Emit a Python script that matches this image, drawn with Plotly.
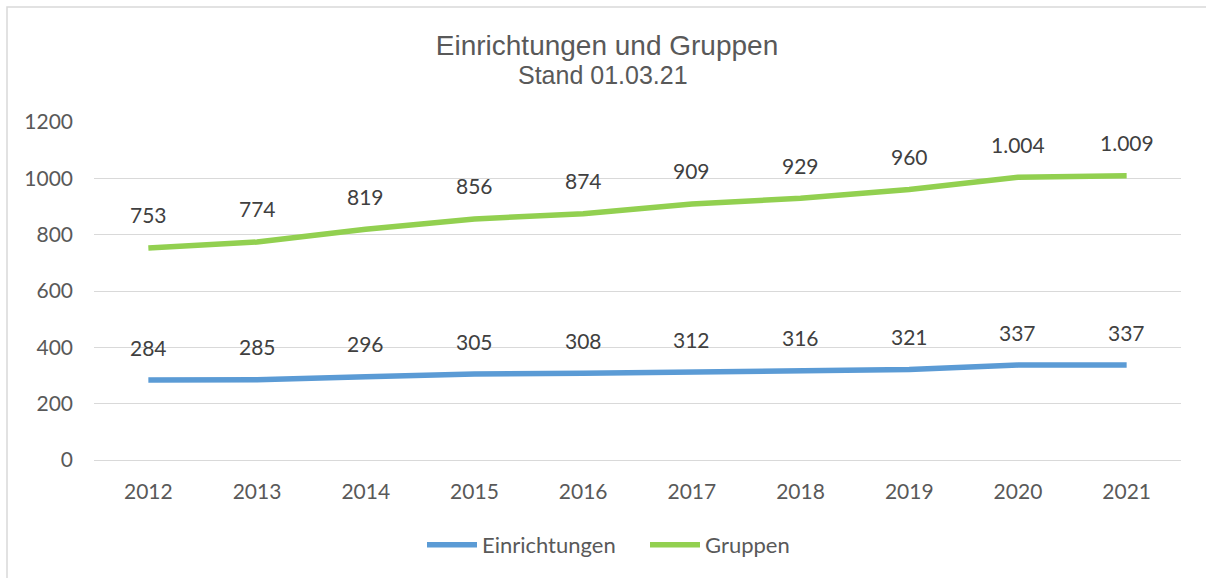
import plotly.graph_objects as go

years = ["2012", "2013", "2014", "2015", "2016", "2017", "2018", "2019", "2020", "2021"]
einrichtungen = [284, 285, 296, 305, 308, 312, 316, 321, 337, 337]
gruppen = [753, 774, 819, 856, 874, 909, 929, 960, 1004, 1009]
y_ticks = [0, 200, 400, 600, 800, 1000, 1200]

W, H = 1206, 578
ML, MR, MT, MB = 94, 25, 122, 118
PW, PH = W - ML - MR, H - MT - MB

def de_fmt(v):
    return f"{v:,}".replace(",", ".")

fig = go.Figure()
fig.add_trace(go.Scatter(x=years, y=einrichtungen, mode="lines", name="Einrichtungen",
                         line=dict(color="#5B9BD5", width=5.5)))
fig.add_trace(go.Scatter(x=years, y=gruppen, mode="lines", name="Gruppen",
                         line=dict(color="#92D050", width=5.5)))

annotations = []
for series in (einrichtungen, gruppen):
    for i, v in enumerate(series):
        annotations.append(dict(x=i, y=v, text=de_fmt(v), showarrow=False, yshift=33,
                                font=dict(family="Lato, Carlito, sans-serif", size=21, color="#404040")))

# subtitle
annotations.append(dict(xref="paper", yref="paper",
                        x=(603 - ML) / PW, y=(H - MB - 75) / PH,
                        text="Stand 01.03.21", showarrow=False, xanchor="center", yanchor="middle",
                        font=dict(family="Liberation Sans, Arial, sans-serif", size=25, color="#595959")))

fig.update_layout(
    width=W, height=H,
    margin=dict(l=ML, r=MR, t=MT, b=MB),
    paper_bgcolor="white", plot_bgcolor="white",
    title=dict(text="Einrichtungen und Gruppen", x=607 / W, xanchor="center",
               y=1 - 45 / H, yanchor="middle", yref="container",
               font=dict(family="Liberation Sans, Arial, sans-serif", size=28, color="#595959")),
    xaxis=dict(type="category", range=[-0.5, len(years) - 0.5], showgrid=False, zeroline=False,
               showline=False, ticks="", ticklabelstandoff=17,
               tickfont=dict(family="Lato, Carlito, sans-serif", size=21, color="#595959")),
    yaxis=dict(range=[0, 1200], tickvals=y_ticks, showgrid=True, gridcolor="#D9D9D9", gridwidth=1.3,
               zeroline=True, zerolinecolor="#D9D9D9", zerolinewidth=1.3, showline=False, ticks="",
               ticklabelstandoff=20,
               tickfont=dict(family="Lato, Carlito, sans-serif", size=21, color="#595959")),
    legend=dict(orientation="h", xref="container", x=422 / W, xanchor="left",
                yref="container", y=1 - 545 / H, yanchor="middle",
                font=dict(family="Lato, Carlito, sans-serif", size=22, color="#595959"),
                itemwidth=50, tracegroupgap=0, entrywidth=158, entrywidthmode="pixels"),
    annotations=annotations,
    shapes=[dict(type="rect", xref="paper", yref="paper",
                 x0=(7 - ML) / PW, x1=(1225 - ML) / PW,
                 y0=(H - MB - 600) / PH, y1=(H - MB - 7) / PH,
                 line=dict(color="#D9D9D9", width=1.5), fillcolor="rgba(0,0,0,0)", layer="below")],
    showlegend=True,
)

fig.write_html("out.html", config={"displayModeBar": False},
               post_script="document.body.style.margin='0';document.body.style.overflow='hidden';")
